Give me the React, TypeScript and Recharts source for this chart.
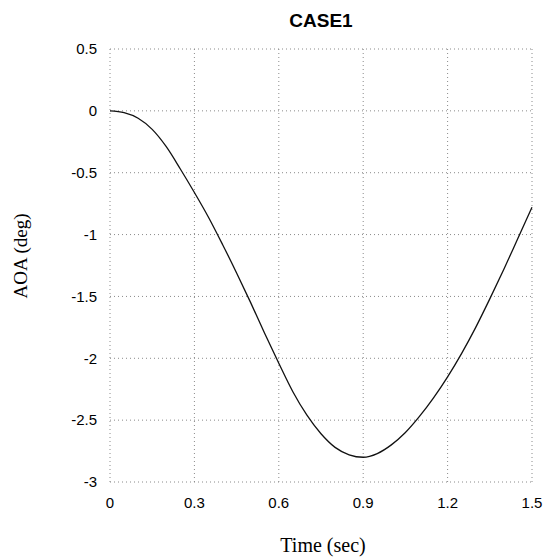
import { LineChart, Line, XAxis, YAxis, CartesianGrid, Label } from "recharts";

// time (sec)
const times = [
  0, 0.05, 0.1, 0.15, 0.2, 0.25, 0.3, 0.35, 0.4, 0.45, 0.5, 0.55, 0.6, 0.65,
  0.7, 0.75, 0.8, 0.85, 0.9, 0.95, 1.0, 1.05, 1.1, 1.15, 1.2, 1.25, 1.3, 1.35,
  1.4, 1.45, 1.5,
];
// angle of attack (deg)
const aoa = [
  0, -0.015, -0.06, -0.15, -0.29, -0.47, -0.66, -0.86, -1.08, -1.31, -1.55,
  -1.8, -2.04, -2.27, -2.46, -2.61, -2.72, -2.78, -2.8, -2.77, -2.7, -2.6,
  -2.47, -2.32, -2.15, -1.96, -1.75, -1.52, -1.28, -1.03, -0.78,
];
const xTicks = [0, 0.3, 0.6, 0.9, 1.2, 1.5];
const yTicks = [0.5, 0, -0.5, -1, -1.5, -2, -2.5, -3];

const data = times.map((t, i) => ({ t, aoa: aoa[i] }));

const sans = "'Liberation Sans', Arial, sans-serif";
const serif = "'Liberation Serif', 'Times New Roman', serif";

export default function App() {
  return (
    <div
      style={{
        position: "absolute",
        left: 0,
        top: 0,
        width: 547,
        height: 558,
        background: "#fff",
      }}
    >
      <div
        style={{
          position: "absolute",
          left: 110,
          top: 11,
          width: 422,
          textAlign: "center",
          fontFamily: sans,
          fontWeight: "bold",
          fontSize: 19,
          lineHeight: "19px",
          color: "#000",
        }}
      >
        CASE1
      </div>
      <LineChart
        width={547}
        height={558}
        data={data}
        margin={{ top: 49, right: 15, bottom: 0, left: 0 }}
      >
        <CartesianGrid stroke="#8a8a8a" strokeDasharray="1 3" />
        <XAxis
          dataKey="t"
          type="number"
          domain={[0, 1.5]}
          ticks={xTicks}
          height={76}
          axisLine={false}
          tickLine={false}
          tickSize={0}
          tickMargin={15}
          tick={{ fill: "#000", fontSize: 15, fontFamily: sans }}
        >
          <Label
            content={({ viewBox }: any) => (
              <text
                x={viewBox.x + viewBox.width / 2 + 2}
                y={552}
                textAnchor="middle"
                fontFamily={serif}
                fontSize={20}
                fill="#000"
              >
                Time (sec)
              </text>
            )}
          />
        </XAxis>
        <YAxis
          type="number"
          domain={[-3, 0.5]}
          ticks={yTicks}
          width={110}
          axisLine={false}
          tickLine={false}
          tickSize={0}
          tickMargin={13}
          tick={{ fill: "#000", fontSize: 15, fontFamily: sans }}
        >
          <Label
            content={() => (
              <text
                x={27}
                y={256}
                transform="rotate(-90, 27, 256)"
                textAnchor="middle"
                fontFamily={serif}
                fontSize={19}
                fill="#000"
              >
                AOA (deg)
              </text>
            )}
          />
        </YAxis>
        <Line
          type="monotone"
          dataKey="aoa"
          stroke="#111"
          strokeWidth={1.3}
          dot={false}
          isAnimationActive={false}
        />
      </LineChart>
    </div>
  );
}
